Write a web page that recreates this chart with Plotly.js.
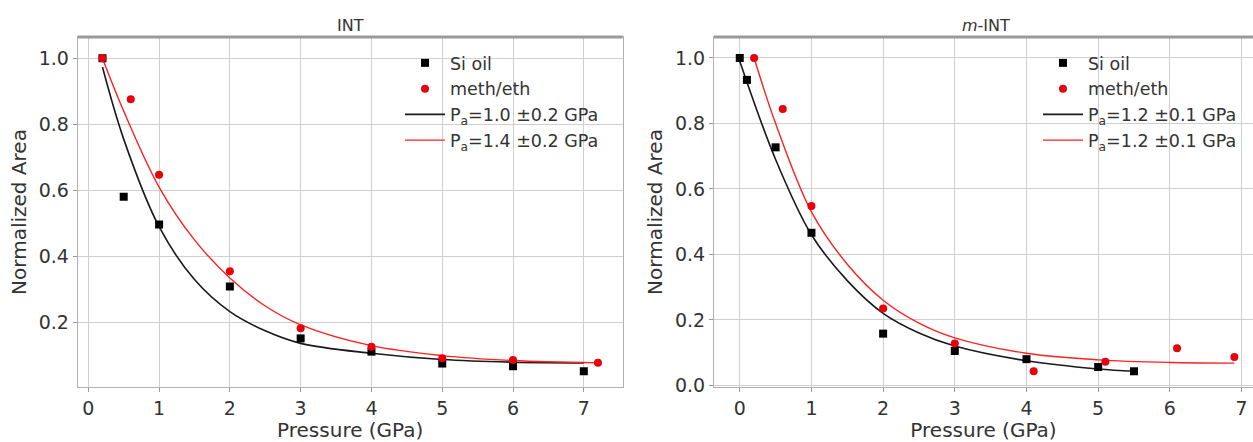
<!DOCTYPE html>
<html>
<head>
<meta charset="utf-8">
<script src="https://cdn.plot.ly/plotly-3.0.1.min.js"></script>
<style>html,body{margin:0;padding:0;background:#fff;}#chart{width:1253px;height:442px;}</style>
</head>
<body>
<div id="chart"></div>
<script>
// ---- Panel 1: INT ----
const intSiP = [0.2, 0.5, 1, 2, 3, 4, 5, 6, 7];
const intSiA = [1.0, 0.581, 0.497, 0.309, 0.152, 0.112, 0.076, 0.068, 0.053];
const intMeP = [0.2, 0.6, 1, 2, 3, 4, 5, 6, 7.2];
const intMeA = [1.0, 0.876, 0.647, 0.355, 0.183, 0.127, 0.092, 0.087, 0.078];
const intFitSiP = [0.2, 0.5, 1, 1.5, 2, 2.5, 3, 4, 5, 6, 7];
const intFitSiA = [0.973, 0.755, 0.49, 0.33, 0.233, 0.175, 0.137, 0.107, 0.088, 0.08, 0.078];
const intFitMeP = [0.2, 0.5, 1, 1.5, 2, 2.5, 3, 4, 5, 6, 7.2];
const intFitMeA = [1.0, 0.84, 0.61, 0.45, 0.335, 0.25, 0.193, 0.13, 0.1, 0.085, 0.078];
const intLabels = ["Si oil", "meth/eth", "P<sub>a</sub>=1.0 \u00b10.2 GPa", "P<sub>a</sub>=1.4 \u00b10.2 GPa"];

// ---- Panel 2: m-INT ----
const mintSiP = [0, 0.1, 0.5, 1, 2, 3, 4, 5, 5.5];
const mintSiA = [1.0, 0.933, 0.727, 0.466, 0.158, 0.105, 0.08, 0.056, 0.043];
const mintMeP = [0.2, 0.6, 1, 2, 3, 4.1, 5.1, 6.1, 6.9];
const mintMeA = [1.0, 0.844, 0.548, 0.235, 0.128, 0.043, 0.072, 0.113, 0.087];
const mintFitSiP = [0, 0.5, 1, 1.5, 2, 2.5, 3, 4, 5, 5.5];
const mintFitSiA = [0.99, 0.69, 0.46, 0.32, 0.22, 0.16, 0.12, 0.075, 0.05, 0.043];
const mintFitMeP = [0.2, 0.5, 1, 1.5, 2, 2.5, 3, 4, 5, 6, 6.9];
const mintFitMeA = [1.0, 0.80, 0.53, 0.37, 0.26, 0.19, 0.145, 0.098, 0.078, 0.07, 0.068];
const mintLabels = ["Si oil", "meth/eth", "P<sub>a</sub>=1.2 \u00b10.1 GPa", "P<sub>a</sub>=1.2 \u00b10.1 GPa"];

const xTicks = [0, 1, 2, 3, 4, 5, 6, 7];
const yTicks = [0.0, 0.2, 0.4, 0.6, 0.8, 1.0];

const BLACK = '#000000', RED = '#e8000b';
const FONT = 'DejaVu Sans, sans-serif';

function traces(siP, siA, meP, meA, fSiP, fSiA, fMeP, fMeA, labels, xa, ya, lg, g) {
  return [
    {x: fSiP, y: fSiA, type: 'scatter', mode: 'lines', line: {color: '#1a1a1a', width: 1.6, shape: 'spline'}, name: labels[2], xaxis: xa, yaxis: ya, legend: lg, legendrank: 3, legendgroup: g + 'c'},
    {x: fMeP, y: fMeA, type: 'scatter', mode: 'lines', line: {color: '#ff2020', width: 1.4, shape: 'spline'}, name: labels[3], xaxis: xa, yaxis: ya, legend: lg, legendrank: 4, legendgroup: g + 'd'},
    {x: siP, y: siA, type: 'scatter', mode: 'markers', marker: {symbol: 'square', size: 8, color: BLACK}, name: labels[0], xaxis: xa, yaxis: ya, legend: lg, legendrank: 1, legendgroup: g + 'a'},
    {x: meP, y: meA, type: 'scatter', mode: 'markers', marker: {symbol: 'circle', size: 8, color: RED}, name: labels[1], xaxis: xa, yaxis: ya, legend: lg, legendrank: 2, legendgroup: g + 'b'}
  ];
}

const data = [].concat(
  traces(intSiP, intSiA, intMeP, intMeA, intFitSiP, intFitSiA, intFitMeP, intFitMeA, intLabels, 'x', 'y', 'legend', 'L'),
  traces(mintSiP, mintSiA, mintMeP, mintMeA, mintFitSiP, mintFitSiA, mintFitMeP, mintFitMeA, mintLabels, 'x2', 'y2', 'legend2', 'R')
);

const axCommon = {
  showgrid: true, gridcolor: '#cfcfcf', gridwidth: 1,
  showline: true, linecolor: '#b0b0b0', linewidth: 1,
  ticks: 'outside', ticklen: 4, tickcolor: '#999',
  tickfont: {family: FONT, size: 19, color: '#333'},
  zeroline: false
};
const xTitle = {text: 'Pressure (GPa)', font: {family: FONT, size: 20, color: '#333'}, standoff: 2};
const yTitle = {text: 'Normalized Area', font: {family: FONT, size: 20, color: '#333'}, standoff: 6};

const legendCommon = {
  font: {family: FONT, size: 17.5, color: '#333'},
  bgcolor: 'rgba(255,255,255,0)', borderwidth: 0,
  xanchor: 'left', yanchor: 'top', traceorder: 'grouped', tracegroupgap: 0, itemwidth: 40
};

const layout = {
  width: 1253, height: 442,
  margin: {l: 0, r: 0, t: 37, b: 55},
  paper_bgcolor: '#fff', plot_bgcolor: '#fff',
  showlegend: true,
  xaxis: Object.assign({}, axCommon, {domain: [0.062, 0.497], range: [-0.15, 7.55], tickvals: xTicks, mirror: true, title: xTitle}),
  yaxis: Object.assign({}, axCommon, {range: [0.005, 1.064], tickvals: yTicks, tickformat: '.1f', mirror: true, title: yTitle}),
  xaxis2: Object.assign({}, axCommon, {domain: [0.5698, 1.0], range: [-0.36, 7.16], tickvals: xTicks, mirror: true, anchor: 'y2', title: xTitle}),
  yaxis2: Object.assign({}, axCommon, {range: [-0.005, 1.064], tickvals: yTicks, tickformat: '.1f', mirror: false, anchor: 'x2', title: yTitle}),
  legend: Object.assign({}, legendCommon, {x: 400 / 1253, y: 1 - (45 - 37) / 350}),
  legend2: Object.assign({}, legendCommon, {x: 1038 / 1253, y: 1 - (45 - 37) / 350}),
  annotations: [
    {text: 'INT', xref: 'paper', yref: 'paper', x: (77.7 + 622.7) / 2 / 1253, y: 1, yanchor: 'bottom', xanchor: 'center', showarrow: false, font: {family: FONT, size: 16, color: '#333'}},
    {text: '<i>m</i>-INT', xref: 'paper', yref: 'paper', x: (714 + 1257) / 2 / 1253, y: 1, yanchor: 'bottom', xanchor: 'center', showarrow: false, font: {family: FONT, size: 16, color: '#333'}}
  ],
  shapes: [
    {type: 'line', xref: 'x domain', yref: 'y domain', x0: 0, x1: 1, y0: 1, y1: 1, line: {color: '#9a9a9a', width: 3}},
    {type: 'line', xref: 'x2 domain', yref: 'y2 domain', x0: 0, x1: 1, y0: 1, y1: 1, line: {color: '#9a9a9a', width: 3}}
  ]
};

Plotly.newPlot('chart', data, layout, {displayModeBar: false, staticPlot: true});
</script>
</body>
</html>
